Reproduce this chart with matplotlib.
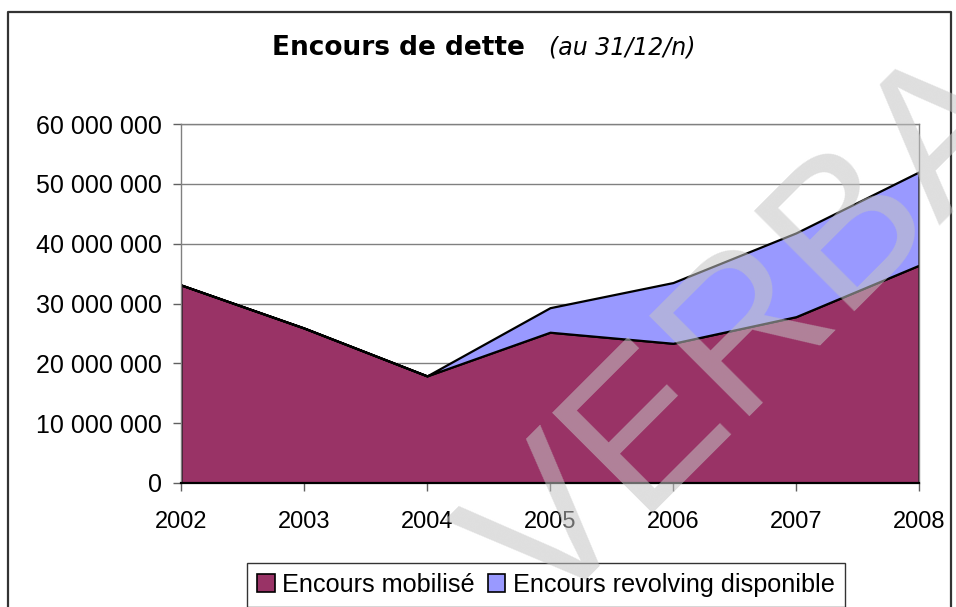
import matplotlib
matplotlib.use('Agg')
import matplotlib.pyplot as plt
from matplotlib.patches import Rectangle
from matplotlib.lines import Line2D
from matplotlib.ticker import FuncFormatter, MultipleLocator

years = [2002, 2003, 2004, 2005, 2006, 2007, 2008]
encours_mobilise = [33.1e6, 25.9e6, 17.9e6, 25.2e6, 23.35e6, 27.8e6, 36.4e6]
encours_revolving = [0, 0, 0, 4.1e6, 10.15e6, 14.0e6, 15.6e6]
series_labels = ["Encours mobilisé", "Encours revolving disponible"]
title_main = "Encours de dette"
title_sub = "(au 31/12/n)"

c_mob = '#993366'
c_rev = '#9999FF'

W, H = 956, 607
fig = plt.figure(figsize=(W / 100, H / 100), dpi=100)
fig.patch.set_facecolor('white')

ax = fig.add_axes([181 / W, 1 - 483 / H, (919 - 181) / W, (483 - 124) / H])
ax.stackplot(years, encours_mobilise, encours_revolving,
             colors=[c_mob, c_rev], edgecolor='black', linewidth=1.6)
ax.set_xlim(2002, 2008)
ax.set_ylim(0, 60e6)
ax.yaxis.set_major_locator(MultipleLocator(10e6))
ax.set_xticks(years)
ax.yaxis.set_major_formatter(FuncFormatter(lambda v, p: f"{int(v):,}".replace(',', ' ')))
ax.yaxis.grid(True, color='#808080', lw=1.0)
ax.set_axisbelow(True)
for s in ['left', 'top', 'right']:
    ax.spines[s].set_color('#808080')
    ax.spines[s].set_linewidth(1.0)
ax.spines['bottom'].set_color('black')
ax.spines['bottom'].set_linewidth(1.6)
ax.tick_params(axis='both', direction='out', length=6, width=1, color='#606060',
               labelcolor='black')
ax.tick_params(axis='y', pad=8, labelsize=18)
ax.tick_params(axis='x', pad=14, labelsize=17)
for lab in ax.get_xticklabels() + ax.get_yticklabels():
    lab.set_family('Liberation Sans')

# title
fig.text(272 / W, 1 - 55 / H, title_main, fontsize=19, fontweight='bold',
         family='DejaVu Sans', ha='left', va='baseline')
fig.text(549 / W, 1 - 55 / H, title_sub, fontsize=17, style='italic',
         family='DejaVu Sans', ha='left', va='baseline')

# outer frame
fig.add_artist(Line2D([8 / W, 8 / W, 951 / W, 951 / W], [0, 1 - 12 / H, 1 - 12 / H, 0],
                      transform=fig.transFigure, color='#333333', lw=1.6))

# legend
handles = [Rectangle((0, 0), 1, 1, facecolor=c_mob, edgecolor='black', lw=1.2),
           Rectangle((0, 0), 1, 1, facecolor=c_rev, edgecolor='black', lw=1.2)]
leg = fig.legend(handles, series_labels, loc='upper center',
                 bbox_to_anchor=(546 / W, 1 - 563 / H), ncol=2, frameon=True,
                 fancybox=False, edgecolor='black', handlelength=0.7, handleheight=0.7,
                 handletextpad=0.3, columnspacing=0.5, borderpad=0.4, borderaxespad=0,
                 prop={'family': 'Liberation Sans', 'size': 18.2})
leg.get_frame().set_linewidth(1.0)

# watermark
fig.text(753 / W, 1 - 337 / H, "VERBA", rotation=45, ha='center', va='center',
         rotation_mode='anchor', fontsize=148, color='#c4c4c4', alpha=0.55,
         family='Liberation Sans', zorder=10)

fig.savefig('out.png', dpi=100)
